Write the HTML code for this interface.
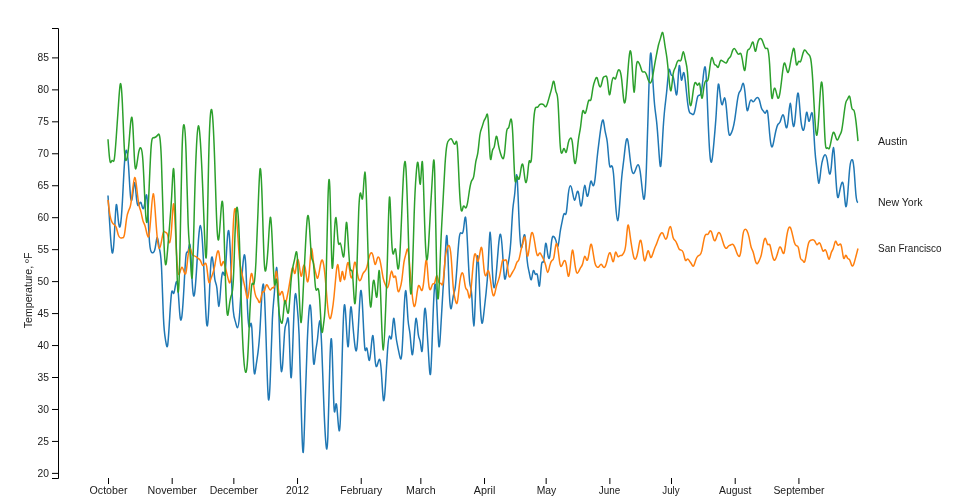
<!DOCTYPE html>
<html><head><meta charset="utf-8"><title>Multi-Series Line Chart</title>
<style>
html,body{margin:0;padding:0;background:#fff;}
body{width:960px;height:500px;overflow:hidden;}
svg{display:block;font-family:"Liberation Sans","DejaVu Sans",sans-serif;font-size:10px;fill:#1a1a1a;}
.line{fill:none;stroke-width:1.5px;}
.axis line,.axis path{stroke:#000;fill:none;}
text{fill:#1a1a1a;}
</style></head><body>
<svg width="960" height="500" viewBox="0 0 960 500">

<g class="axis axis--x" text-anchor="middle">
<g><line x1="108.5" x2="108.5" y1="478" y2="484"/><text x="108.5" y="494.1" textLength="37.96" lengthAdjust="spacingAndGlyphs">October</text></g>
<g><line x1="172.2" x2="172.2" y1="478" y2="484"/><text x="172.2" y="494.1" textLength="49.32" lengthAdjust="spacingAndGlyphs">November</text></g>
<g><line x1="233.84" x2="233.84" y1="478" y2="484"/><text x="233.84" y="494.1" textLength="48.39" lengthAdjust="spacingAndGlyphs">December</text></g>
<g><line x1="297.54" x2="297.54" y1="478" y2="484"/><text x="297.54" y="494.1" textLength="22.87" lengthAdjust="spacingAndGlyphs">2012</text></g>
<g><line x1="361.24" x2="361.24" y1="478" y2="484"/><text x="361.24" y="494.1" textLength="41.77" lengthAdjust="spacingAndGlyphs">February</text></g>
<g><line x1="420.83" x2="420.83" y1="478" y2="484"/><text x="420.83" y="494.1" textLength="29.57" lengthAdjust="spacingAndGlyphs">March</text></g>
<g><line x1="484.53" x2="484.53" y1="478" y2="484"/><text x="484.53" y="494.1" textLength="21.6" lengthAdjust="spacingAndGlyphs">April</text></g>
<g><line x1="546.17" x2="546.17" y1="478" y2="484"/><text x="546.47" y="494.1" textLength="19.6" lengthAdjust="spacingAndGlyphs">May</text></g>
<g><line x1="609.87" x2="609.87" y1="478" y2="484"/><text x="609.47" y="494.1" textLength="21.4" lengthAdjust="spacingAndGlyphs">June</text></g>
<g><line x1="671.51" x2="671.51" y1="478" y2="484"/><text x="671.01" y="494.1" textLength="17.4" lengthAdjust="spacingAndGlyphs">July</text></g>
<g><line x1="735.21" x2="735.21" y1="478" y2="484"/><text x="735.21" y="494.1" textLength="32.38" lengthAdjust="spacingAndGlyphs">August</text></g>
<g><line x1="798.91" x2="798.91" y1="478" y2="484"/><text x="798.91" y="494.1" textLength="51.0" lengthAdjust="spacingAndGlyphs">September</text></g>
</g>
<g class="axis axis--y" text-anchor="end">
<path d="M52,478.5H58.5V28.5H52"/>
<g><line x1="52" x2="58" y1="473.39" y2="473.39"/><text x="49" y="476.59" textLength="11.44" lengthAdjust="spacingAndGlyphs">20</text></g>
<g><line x1="52" x2="58" y1="441.43" y2="441.43"/><text x="49" y="444.63" textLength="11.44" lengthAdjust="spacingAndGlyphs">25</text></g>
<g><line x1="52" x2="58" y1="409.47" y2="409.47"/><text x="49" y="412.67" textLength="11.44" lengthAdjust="spacingAndGlyphs">30</text></g>
<g><line x1="52" x2="58" y1="377.51" y2="377.51"/><text x="49" y="380.71" textLength="11.44" lengthAdjust="spacingAndGlyphs">35</text></g>
<g><line x1="52" x2="58" y1="345.55" y2="345.55"/><text x="49" y="348.75" textLength="11.44" lengthAdjust="spacingAndGlyphs">40</text></g>
<g><line x1="52" x2="58" y1="313.59" y2="313.59"/><text x="49" y="316.79" textLength="11.44" lengthAdjust="spacingAndGlyphs">45</text></g>
<g><line x1="52" x2="58" y1="281.62" y2="281.62"/><text x="49" y="284.82" textLength="11.44" lengthAdjust="spacingAndGlyphs">50</text></g>
<g><line x1="52" x2="58" y1="249.66" y2="249.66"/><text x="49" y="252.86" textLength="11.44" lengthAdjust="spacingAndGlyphs">55</text></g>
<g><line x1="52" x2="58" y1="217.7" y2="217.7"/><text x="49" y="220.9" textLength="11.44" lengthAdjust="spacingAndGlyphs">60</text></g>
<g><line x1="52" x2="58" y1="185.74" y2="185.74"/><text x="49" y="188.94" textLength="11.44" lengthAdjust="spacingAndGlyphs">65</text></g>
<g><line x1="52" x2="58" y1="153.78" y2="153.78"/><text x="49" y="156.98" textLength="11.44" lengthAdjust="spacingAndGlyphs">70</text></g>
<g><line x1="52" x2="58" y1="121.82" y2="121.82"/><text x="49" y="125.02" textLength="11.44" lengthAdjust="spacingAndGlyphs">75</text></g>
<g><line x1="52" x2="58" y1="89.86" y2="89.86"/><text x="49" y="93.06" textLength="11.44" lengthAdjust="spacingAndGlyphs">80</text></g>
<g><line x1="52" x2="58" y1="57.9" y2="57.9"/><text x="49" y="61.1" textLength="11.44" lengthAdjust="spacingAndGlyphs">85</text></g>
<text transform="translate(32.3,290.4) rotate(-90)" text-anchor="middle" textLength="75.6" lengthAdjust="spacingAndGlyphs">Temperature, ºF</text>
</g>
<g class="city"><path class="line" stroke="#1f77b4" d="M108,195.47L108.34,201.22C108.68,206.98,109.37,218.48,110.05,229.24C110.74,240,111.42,250.02,112.11,252.47C112.79,254.92,113.48,249.8,114.16,238.19C114.85,226.58,115.53,208.47,116.22,205.17C116.9,201.86,117.59,213.37,118.27,220.08C118.96,226.79,119.64,228.71,120.33,225.51C121.01,222.32,121.7,214.01,122.38,201.86C123.07,189.72,123.75,173.74,124.44,163.72C125.12,153.71,125.81,149.66,126.49,150.3C127.18,150.94,127.86,156.27,128.55,166.28C129.23,176.3,129.92,191,130.6,197.07C131.29,203.14,131.97,200.59,132.66,195.15C133.34,189.72,134.03,181.41,134.71,182.79C135.4,184.18,136.08,195.26,136.77,200.69C137.45,206.12,138.14,205.91,138.82,204.74C139.51,203.57,140.19,201.44,140.88,202.5C141.56,203.57,142.25,207.83,142.93,208.58C143.62,209.32,144.3,206.55,144.99,201.97C145.67,197.39,146.36,191,147.04,197.92C147.73,204.85,148.41,225.09,149.1,236.49C149.78,247.89,150.47,250.44,151.15,251.72C151.84,253,152.52,253,153.21,252.57C153.89,252.15,154.58,251.3,155.26,247.57C155.95,243.84,156.63,237.23,157.32,237.45C158,237.66,158.68,244.69,159.37,248.42C160.05,252.15,160.74,252.57,161.42,265.46C162.11,278.36,162.79,303.71,163.48,318.09C164.16,332.47,164.85,335.88,165.53,340.04C166.22,344.19,166.9,349.09,167.59,345.58C168.27,342.06,168.96,330.13,169.64,318.41C170.33,306.69,171.01,295.19,171.7,291.99C172.38,288.8,173.07,293.91,173.75,293.38C174.44,292.84,175.12,286.66,175.81,283.58C176.49,280.49,177.18,280.49,177.86,287.52C178.55,294.55,179.23,308.61,179.92,315.32C180.6,322.03,181.29,321.39,181.97,315.64C182.66,309.89,183.34,299.02,184.03,286.56C184.71,274.09,185.4,260.03,186.08,254.92C186.77,249.8,187.45,253.64,188.14,251.3C188.82,248.95,189.51,240.43,190.19,245.97C190.88,251.51,191.56,271.11,192.25,282.72C192.93,294.34,193.62,297.96,194.3,295.19C194.99,292.42,195.67,283.26,196.36,272.6C197.04,261.95,197.73,249.8,198.41,240.64C199.1,231.48,199.78,225.3,200.47,225.62C201.15,225.94,201.84,232.76,202.52,243.52C203.21,254.28,203.89,268.98,204.58,284.96C205.26,300.94,205.95,318.2,206.63,323.85C207.32,329.49,208,323.53,208.68,310.21C209.37,296.89,210.05,276.22,210.74,265.78C211.42,255.34,212.11,255.13,212.79,260.03C213.48,264.93,214.16,274.95,214.85,279.31C215.53,283.68,216.22,282.4,216.9,288.16C217.59,293.91,218.27,306.69,218.96,306.37C219.64,306.05,220.33,292.63,221.01,284C221.7,275.37,222.38,271.54,223.07,272.28C223.75,273.03,224.44,278.36,225.12,272.92C225.81,267.49,226.49,251.3,227.18,241.17C227.86,231.05,228.55,227.01,229.23,234.04C229.92,241.07,230.6,259.18,231.29,274.95C231.97,290.71,232.66,304.14,233.34,311.27C234.03,318.41,234.71,319.26,235.4,321.61C236.08,323.95,236.77,327.79,237.45,327.79C238.14,327.79,238.82,323.95,239.51,315.32C240.19,306.69,240.88,293.27,241.56,282.3C242.25,271.32,242.93,262.8,243.62,258.11C244.3,253.43,244.99,252.57,245.67,264.08C246.36,275.59,247.04,299.45,247.73,312.66C248.41,325.87,249.1,328.43,249.78,326.72C250.47,325.02,251.15,319.05,251.84,328C252.52,336.95,253.21,360.81,253.89,369.55C254.58,378.28,255.26,371.89,255.95,366.78C256.63,361.66,257.32,357.83,258,352.4C258.68,346.96,259.37,339.93,260.05,328.21C260.74,316.49,261.42,300.09,262.11,291.25C262.79,282.4,263.48,281.12,264.16,290.71C264.85,300.3,265.53,320.76,266.22,343.23C266.9,365.71,267.59,390.22,268.27,397.57C268.96,404.92,269.64,395.12,270.33,377.33C271.01,359.53,271.7,333.75,272.38,319.16C273.07,304.56,273.75,301.15,274.44,291.99C275.12,282.83,275.81,267.91,276.49,267.49C277.18,267.06,277.86,281.13,278.55,301.9C279.23,322.67,279.92,350.16,280.6,362.84C281.29,375.51,281.97,373.38,282.66,364.12C283.34,354.85,284.03,338.44,284.71,330.98C285.4,323.53,286.08,325.02,286.77,322.25C287.45,319.48,288.14,312.45,288.82,325.34C289.51,338.23,290.19,371.04,290.88,376.79C291.56,382.55,292.25,361.24,292.93,341C293.62,320.76,294.3,301.58,294.99,295.72C295.67,289.86,296.36,297.32,297.04,304.35C297.73,311.38,298.41,317.99,299.1,335.03C299.78,352.08,300.47,379.56,301.15,405.13C301.84,430.7,302.52,454.35,303.21,452.43C303.89,450.51,304.58,423.03,305.26,399.59C305.95,376.15,306.63,356.76,307.32,340.89C308,325.02,308.68,312.66,309.37,307.55C310.05,302.43,310.74,304.56,311.42,317.67C312.11,330.77,312.79,354.85,313.48,361.88C314.16,368.91,314.85,358.89,315.53,352.82C316.22,346.75,316.9,344.62,317.59,338.23C318.27,331.84,318.96,321.18,319.64,320.86C320.33,320.54,321.01,330.56,321.7,346.54C322.38,362.52,323.07,384.46,323.75,402.36C324.44,420.26,325.12,434.11,325.81,442.42C326.49,450.73,327.18,453.5,327.86,436.56C328.55,419.62,329.23,382.97,329.92,361.03C330.6,339.08,331.29,331.84,331.97,346.22C332.66,360.6,333.34,396.61,334.03,407.69C334.71,418.77,335.4,404.92,336.08,403.75C336.77,402.57,337.45,414.08,338.14,422.39C338.82,430.7,339.51,435.81,340.19,423.03C340.88,410.24,341.56,379.56,342.25,354.31C342.93,329.07,343.62,309.25,344.3,305.41C344.99,301.58,345.67,313.72,346.36,326.08C347.04,338.44,347.73,351.01,348.41,345.47C349.1,339.93,349.78,316.28,350.47,309.25C351.15,302.22,351.84,311.81,352.52,320.44C353.21,329.07,353.89,336.74,354.58,342.81C355.26,348.88,355.95,353.36,356.63,349.73C357.32,346.11,358,334.39,358.68,321.18C359.37,307.97,360.05,293.27,360.74,290.82C361.42,288.37,362.11,298.17,362.79,311.91C363.48,325.66,364.16,343.34,364.85,348.67C365.53,353.99,366.22,346.96,366.9,348.03C367.59,349.09,368.27,358.26,368.96,360.07C369.64,361.88,370.33,356.34,371.01,349.2C371.7,342.06,372.38,333.33,373.07,336.1C373.75,338.87,374.44,353.14,375.12,360.28C375.81,367.42,376.49,367.42,377.18,365.5C377.86,363.58,378.55,359.75,379.23,359.32C379.92,358.89,380.6,361.88,381.29,371.04C381.97,380.2,382.66,395.54,383.34,399.59C384.03,403.64,384.71,396.39,385.4,385.85C386.08,375.3,386.77,361.45,387.45,351.65C388.14,341.85,388.82,336.1,389.51,335.99C390.19,335.88,390.88,341.42,391.56,337.48C392.25,333.54,392.93,320.12,393.62,318.52C394.3,316.92,394.99,327.15,395.67,333.75C396.36,340.36,397.04,343.34,397.73,346.64C398.41,349.95,399.1,353.57,399.78,356.44C400.47,359.32,401.15,361.45,401.84,353.57C402.52,345.68,403.21,327.79,403.89,313.4C404.58,299.02,405.26,288.16,405.95,291.14C406.63,294.12,407.32,310.95,408,319.48C408.68,328,409.37,328.21,410.05,334.39C410.74,340.57,411.42,352.72,412.11,354.53C412.79,356.34,413.48,347.82,414.16,338.23C414.85,328.64,415.53,317.99,416.22,318.2C416.9,318.41,417.59,329.49,418.27,334.39C418.96,339.29,419.64,338.01,420.33,342.17C421.01,346.32,421.7,355.91,422.38,349.2C423.07,342.49,423.75,319.48,424.44,311.59C425.12,303.71,425.81,310.95,426.49,320.65C427.18,330.34,427.86,342.49,428.55,354.53C429.23,366.57,429.92,378.5,430.6,373.38C431.29,368.27,431.97,346.11,432.66,326.62C433.34,307.12,434.03,290.29,434.71,285.49C435.4,280.7,436.08,287.94,436.77,302.86C437.45,317.77,438.14,340.36,438.82,345.58C439.51,350.8,440.19,338.65,440.88,326.3C441.56,313.94,442.25,301.37,442.93,291.03C443.62,280.7,444.3,272.6,444.99,260.14C445.67,247.67,446.36,230.84,447.04,236.59C447.73,242.35,448.41,270.68,449.1,287.52C449.78,304.35,450.47,309.68,451.15,308.61C451.84,307.55,452.52,300.09,453.21,296.36C453.89,292.63,454.58,292.63,455.26,287.41C455.95,282.19,456.63,271.75,457.32,261.52C458,251.3,458.68,241.28,459.37,236.59C460.05,231.91,460.74,232.55,461.42,233.08C462.11,233.61,462.79,234.04,463.48,229.56C464.16,225.09,464.85,215.71,465.53,217.31C466.22,218.91,466.9,231.48,467.59,245.65C468.27,259.82,468.96,275.59,469.64,281.98C470.33,288.37,471.01,285.39,471.7,294.76C472.38,304.14,473.07,325.87,473.75,325.98C474.44,326.08,475.12,304.56,475.81,286.24C476.49,267.91,477.18,252.79,477.86,256.2C478.55,259.61,479.23,281.55,479.92,297.11C480.6,312.66,481.29,321.82,481.97,323.1C482.66,324.38,483.34,317.77,484.03,311.49C484.71,305.2,485.4,299.24,486.08,292.95C486.77,286.66,487.45,280.06,488.14,266.32C488.82,252.57,489.51,231.69,490.19,232.23C490.88,232.76,491.56,254.7,492.25,268.55C492.93,282.4,493.62,288.16,494.3,287.73C494.99,287.3,495.67,280.7,496.36,272.5C497.04,264.29,497.73,254.49,498.41,246.82C499.1,239.15,499.78,233.61,500.47,234.36C501.15,235.1,501.84,242.13,502.52,252.04C503.21,261.95,503.89,274.73,504.58,278.25C505.26,281.76,505.95,276.01,506.63,271.64C507.32,267.28,508,264.29,508.68,260.56C509.37,256.84,510.05,252.36,510.74,242.56C511.42,232.76,512.11,217.63,512.79,209.43C513.48,201.22,514.16,199.95,514.85,192.49C515.53,185.03,516.22,171.39,516.9,175.55C517.59,179.7,518.27,201.65,518.96,217.84C519.64,234.04,520.33,244.48,521.01,247.14C521.7,249.8,522.38,244.69,523.07,240.32C523.75,235.95,524.44,232.33,525.12,236.7C525.81,241.07,526.49,253.43,527.18,260.46C527.86,267.49,528.55,269.19,529.23,272.5C529.92,275.8,530.6,280.7,531.29,279.74C531.97,278.78,532.66,271.96,533.34,270.68C534.03,269.41,534.71,273.67,535.4,274.31C536.08,274.95,536.77,271.96,537.45,275.27C538.14,278.57,538.82,288.16,539.51,285.81C540.19,283.47,540.88,269.19,541.56,264.4C542.25,259.61,542.93,264.29,543.62,260.78C544.3,257.26,544.99,245.54,545.67,243.62C546.36,241.71,547.04,249.59,547.73,254.17C548.41,258.75,549.1,260.03,549.78,256.3C550.47,252.57,551.15,243.84,551.84,239.68C552.52,235.53,553.21,235.95,553.89,236.59C554.58,237.23,555.26,238.09,555.95,240.64C556.63,243.2,557.32,247.46,558,246.08C558.68,244.69,559.37,237.66,560.05,232.76C560.74,227.86,561.42,225.09,562.11,221.68C562.79,218.27,563.48,214.22,564.16,213.69C564.85,213.16,565.53,216.14,566.22,212.94C566.9,209.75,567.59,200.37,568.27,194.41C568.96,188.44,569.64,185.88,570.33,185.78C571.01,185.67,571.7,188.01,572.38,191.53C573.07,195.05,573.75,199.73,574.44,200.16C575.12,200.59,575.81,196.75,576.49,194.09C577.18,191.42,577.86,189.93,578.55,192.91C579.23,195.9,579.92,203.36,580.6,205.38C581.29,207.4,581.97,203.99,582.66,198.45C583.34,192.91,584.03,185.24,584.71,185.14C585.4,185.03,586.08,192.49,586.77,195.15C587.45,197.82,588.14,195.68,588.82,191.74C589.51,187.8,590.19,182.05,590.88,181.2C591.56,180.34,592.25,184.39,592.93,185.46C593.62,186.52,594.3,184.61,594.99,179.38C595.67,174.16,596.36,165.64,597.04,158.72C597.73,151.79,598.41,146.47,599.1,141.14C599.78,135.81,600.47,130.49,601.15,126.22C601.84,121.96,602.52,118.77,603.21,120.37C603.89,121.96,604.58,128.36,605.26,131.98C605.95,135.6,606.63,136.45,607.32,142.52C608,148.6,608.68,159.89,609.37,164.36C610.05,168.84,610.74,166.49,611.42,165.96C612.11,165.43,612.79,166.71,613.48,173.53C614.16,180.34,614.85,192.7,615.53,202.72C616.22,212.73,616.9,220.4,617.59,220.61C618.27,220.83,618.96,213.58,619.64,204.63C620.33,195.68,621.01,185.03,621.7,177.57C622.38,170.12,623.07,165.86,623.75,160C624.44,154.14,625.12,146.68,625.81,142.52C626.49,138.37,627.18,137.52,627.86,140.71C628.55,143.91,629.23,151.15,629.92,157.23C630.6,163.3,631.29,168.2,631.97,170.86C632.66,173.53,633.34,173.95,634.03,173.1C634.71,172.25,635.4,170.12,636.08,168.2C636.77,166.28,637.45,164.58,638.14,164.79C638.82,165,639.51,167.13,640.19,171.71C640.88,176.3,641.56,183.33,642.25,189.51C642.93,195.68,643.62,201.01,644.3,198.67C644.99,196.32,645.67,186.31,646.36,169.05C647.04,151.79,647.73,127.29,648.41,103.96C649.1,80.63,649.78,58.47,650.47,53.89C651.15,49.31,651.84,62.3,652.52,74.34C653.21,86.38,653.89,97.46,654.58,104.7C655.26,111.95,655.95,115.36,656.63,121.86C657.32,128.36,658,137.94,658.68,148.06C659.37,158.18,660.05,168.84,660.74,166.07C661.42,163.3,662.11,147.11,662.79,134.85C663.48,122.6,664.16,114.29,664.85,107.79C665.53,101.3,666.22,96.61,666.9,89.36C667.59,82.12,668.27,72.32,668.96,69.97C669.64,67.63,670.33,72.74,671.01,74.56C671.7,76.37,672.38,74.87,673.07,76.58C673.75,78.28,674.44,83.18,675.12,88.19C675.81,93.2,676.49,98.31,677.18,92.03C677.86,85.74,678.55,68.06,679.23,65.82C679.92,63.58,680.6,76.79,681.29,79.56C681.97,82.33,682.66,74.66,683.34,72.96C684.03,71.25,684.71,75.51,685.4,81.59C686.08,87.66,686.77,95.54,687.45,101.3C688.14,107.05,688.82,110.67,689.51,112.27C690.19,113.87,690.88,113.44,691.56,113.76C692.25,114.08,692.93,115.14,693.62,114.19C694.3,113.23,694.99,110.24,695.67,106.52C696.36,102.79,697.04,98.31,697.73,96.5C698.41,94.69,699.1,95.54,699.78,95.22C700.47,94.9,701.15,93.41,701.84,88.72C702.52,84.04,703.21,76.15,703.89,71.15C704.58,66.14,705.26,64.01,705.95,72.74C706.63,81.48,707.32,101.08,708,118.02C708.68,134.96,709.37,149.24,710.05,156.37C710.74,163.51,711.42,163.51,712.11,159.46C712.79,155.41,713.48,147.32,714.16,139.65C714.85,131.98,715.53,124.73,716.22,113.65C716.9,102.57,717.59,87.66,718.27,84.68C718.96,81.69,719.64,90.64,720.33,96.61C721.01,102.57,721.7,105.56,722.38,104.49C723.07,103.43,723.75,98.31,724.44,97.89C725.12,97.46,725.81,101.72,726.49,109.07C727.18,116.42,727.86,126.86,728.55,131.66C729.23,136.45,729.92,135.6,730.6,134.43C731.29,133.26,731.97,131.76,732.66,129.53C733.34,127.29,734.03,124.31,734.71,119.94C735.4,115.57,736.08,109.82,736.77,104.81C737.45,99.8,738.14,95.54,738.82,93.52C739.51,91.49,740.19,91.71,740.88,89.79C741.56,87.87,742.25,83.82,742.93,83.4C743.62,82.97,744.3,86.17,744.99,92.35C745.67,98.53,746.36,107.69,747.04,110.03C747.73,112.37,748.41,107.9,749.1,104.81C749.78,101.72,750.47,100.02,751.15,100.02C751.84,100.02,752.52,101.72,753.21,101.83C753.89,101.93,754.58,100.44,755.26,99.38C755.95,98.31,756.63,97.67,757.32,97.57C758,97.46,758.68,97.89,759.37,100.02C760.05,102.15,760.74,105.98,761.42,108.01C762.11,110.03,762.79,110.24,763.48,111.2C764.16,112.16,764.85,113.87,765.53,112.91C766.22,111.95,766.9,108.33,767.59,111.84C768.27,115.36,768.96,126.01,769.64,133.68C770.33,141.35,771.01,146.04,771.7,146.89C772.38,147.74,773.07,144.76,773.75,141.35C774.44,137.94,775.12,134.11,775.81,131.02C776.49,127.93,777.18,125.59,777.86,124.52C778.55,123.45,779.23,123.67,779.92,122.28C780.6,120.9,781.29,117.91,781.97,116.21C782.66,114.51,783.34,114.08,784.03,116.85C784.71,119.62,785.4,125.59,786.08,127.29C786.77,128.99,787.45,126.44,788.14,120.05C788.82,113.65,789.51,103.43,790.19,103.32C790.88,103.21,791.56,113.23,792.25,119.51C792.93,125.8,793.62,128.36,794.3,124.95C794.99,121.54,795.67,112.16,796.36,104.49C797.04,96.82,797.73,90.86,798.41,93.84C799.1,96.82,799.78,108.75,800.47,116.42C801.15,124.09,801.84,127.5,802.52,129.21C803.21,130.91,803.89,130.91,804.58,126.44C805.26,121.96,805.95,113.01,806.63,112.27C807.32,111.52,808,118.98,808.68,120.79C809.37,122.6,810.05,118.77,810.74,115.68C811.42,112.59,812.11,110.24,812.79,116.96C813.48,123.67,814.16,139.43,814.85,149.34C815.53,159.25,816.22,163.3,816.9,169.37C817.59,175.44,818.27,183.54,818.96,183.22C819.64,182.9,820.33,174.16,821.01,168.52C821.7,162.87,822.38,160.32,823.07,158.29C823.75,156.27,824.44,154.78,825.12,154.78C825.81,154.78,826.49,156.27,827.18,160.21C827.86,164.15,828.55,170.54,829.23,172.99C829.92,175.44,830.6,173.95,831.29,167.03C831.97,160.1,832.66,147.74,833.34,147.53C834.03,147.32,834.71,159.25,835.4,170.65C836.08,182.05,836.77,192.91,837.45,196.32C838.14,199.73,838.82,195.68,839.51,192.06C840.19,188.44,840.88,185.24,841.56,183.43C842.25,181.62,842.93,181.2,843.62,186.63C844.3,192.06,844.99,203.36,845.67,206.02C846.36,208.68,847.04,202.72,847.73,194.09C848.41,185.46,849.1,174.16,849.78,167.77C850.47,161.38,851.15,159.89,851.84,159.68C852.52,159.46,853.21,160.53,853.89,167.67C854.58,174.8,855.26,188.01,855.95,194.83C856.63,201.65,857.32,202.08,857.66,202.29L858,202.5"/>
<text x="878" y="206" textLength="44.5" lengthAdjust="spacingAndGlyphs">New York</text></g>
<g class="city"><path class="line" stroke="#ff7f0e" d="M108,199.95L108.34,202.93C108.68,205.91,109.37,211.88,110.05,215.71C110.74,219.55,111.42,221.25,112.11,222.42C112.79,223.6,113.48,224.24,114.16,224.66C114.85,225.09,115.53,225.3,116.22,227.22C116.9,229.14,117.59,232.76,118.27,234.89C118.96,237.02,119.64,237.66,120.33,237.87C121.01,238.09,121.7,237.87,122.38,237.87C123.07,237.87,123.75,238.09,124.44,234.57C125.12,231.05,125.81,223.81,126.49,219.12C127.18,214.43,127.86,212.3,128.55,210.81C129.23,209.32,129.92,208.47,130.6,205.06C131.29,201.65,131.97,195.68,132.66,189.72C133.34,183.75,134.03,177.79,134.71,177.47C135.4,177.15,136.08,182.47,136.77,188.33C137.45,194.19,138.14,200.59,138.82,204.31C139.51,208.04,140.19,209.11,140.88,211.66C141.56,214.22,142.25,218.27,142.93,220.61C143.62,222.96,144.3,223.6,144.99,225.73C145.67,227.86,146.36,231.48,147.04,234.14C147.73,236.81,148.41,238.51,149.1,234.78C149.78,231.05,150.47,221.89,151.15,212.62C151.84,203.36,152.52,193.98,153.21,193.77C153.89,193.55,154.58,202.5,155.26,212.09C155.95,221.68,156.63,231.91,157.32,238.62C158,245.33,158.68,248.53,159.37,248.53C160.05,248.53,160.74,245.33,161.42,241.6C162.11,237.87,162.79,233.61,163.48,232.12C164.16,230.63,164.85,231.91,165.53,232.33C166.22,232.76,166.9,232.33,167.59,234.89C168.27,237.45,168.96,242.99,169.64,242.77C170.33,242.56,171.01,236.59,171.7,226.47C172.38,216.35,173.07,202.08,173.75,203.89C174.44,205.7,175.12,223.6,175.81,238.62C176.49,253.64,177.18,265.78,177.86,271C178.55,276.22,179.23,274.52,179.92,272.28C180.6,270.05,181.29,267.28,181.97,267.17C182.66,267.06,183.34,269.62,184.03,271.75C184.71,273.88,185.4,275.59,186.08,272.18C186.77,268.77,187.45,260.24,188.14,254.92C188.82,249.59,189.51,247.46,190.19,248.21C190.88,248.95,191.56,252.57,192.25,254.28C192.93,255.98,193.62,255.77,194.3,255.88C194.99,255.98,195.67,256.41,196.36,256.94C197.04,257.47,197.73,258.11,198.41,258.54C199.1,258.97,199.78,259.18,200.47,260.56C201.15,261.95,201.84,264.51,202.52,265.25C203.21,266,203.89,264.93,204.58,263.97C205.26,263.01,205.95,262.16,206.63,266.1C207.32,270.05,208,278.78,208.68,281.66C209.37,284.53,210.05,281.55,210.74,279.31C211.42,277.08,212.11,275.59,212.79,273.56C213.48,271.54,214.16,268.98,214.85,265.25C215.53,261.52,216.22,256.62,216.9,253.64C217.59,250.66,218.27,249.59,218.96,252.89C219.64,256.2,220.33,263.87,221.01,265.46C221.7,267.06,222.38,262.59,223.07,261.74C223.75,260.88,224.44,263.65,225.12,266.42C225.81,269.19,226.49,271.96,227.18,274.95C227.86,277.93,228.55,281.12,229.23,282.4C229.92,283.68,230.6,283.04,231.29,271.43C231.97,259.82,232.66,237.23,233.34,224.02C234.03,210.81,234.71,206.98,235.4,209.21C236.08,211.45,236.77,219.76,237.45,229.88C238.14,240,238.82,251.93,239.51,259.18C240.19,266.42,240.88,268.98,241.56,271.96C242.25,274.95,242.93,278.36,243.62,281.44C244.3,284.53,244.99,287.3,245.67,291.03C246.36,294.76,247.04,299.45,247.73,298.17C248.41,296.89,249.1,289.65,249.78,283.58C250.47,277.5,251.15,272.6,251.84,273.67C252.52,274.73,253.21,281.76,253.89,286.77C254.58,291.78,255.26,294.76,255.95,296.47C256.63,298.17,257.32,298.6,258,299.98C258.68,301.37,259.37,303.71,260.05,302.01C260.74,300.3,261.42,294.55,262.11,292.63C262.79,290.71,263.48,292.63,264.16,291.57C264.85,290.5,265.53,286.45,266.22,285.17C266.9,283.89,267.59,285.39,268.27,286.98C268.96,288.58,269.64,290.29,270.33,290.07C271.01,289.86,271.7,287.73,272.38,287.62C273.07,287.52,273.75,289.43,274.44,285.17C275.12,280.91,275.81,270.47,276.49,271.43C277.18,272.39,277.86,284.75,278.55,290.5C279.23,296.25,279.92,295.4,280.6,293.91C281.29,292.42,281.97,290.29,282.66,292.42C283.34,294.55,284.03,300.94,284.71,302.75C285.4,304.56,286.08,301.79,286.77,298.6C287.45,295.4,288.14,291.78,288.82,287.84C289.51,283.89,290.19,279.63,290.88,275.37C291.56,271.11,292.25,266.85,292.93,267.7C293.62,268.55,294.3,274.52,294.99,273.45C295.67,272.39,296.36,264.29,297.04,261.1C297.73,257.9,298.41,259.61,299.1,264.08C299.78,268.55,300.47,275.8,301.15,276.22C301.84,276.65,302.52,270.26,303.21,267.17C303.89,264.08,304.58,264.29,305.26,268.23C305.95,272.18,306.63,279.85,307.32,281.55C308,283.26,308.68,278.99,309.37,270.68C310.05,262.37,310.74,250.02,311.42,248.63C312.11,247.25,312.79,256.84,313.48,262.38C314.16,267.91,314.85,269.41,315.53,272.07C316.22,274.73,316.9,278.57,317.59,278.25C318.27,277.93,318.96,273.45,319.64,269.3C320.33,265.14,321.01,261.31,321.7,260.24C322.38,259.18,323.07,260.88,323.75,265.14C324.44,269.41,325.12,276.22,325.81,284.32C326.49,292.42,327.18,301.79,327.86,308.29C328.55,314.79,329.23,318.41,329.92,318.73C330.6,319.05,331.29,316.07,331.97,312.13C332.66,308.18,333.34,303.28,334.03,296.47C334.71,289.65,335.4,280.91,336.08,274.09C336.77,267.28,337.45,262.37,338.14,265.68C338.82,268.98,339.51,280.49,340.19,281.34C340.88,282.19,341.56,272.39,342.25,271.54C342.93,270.68,343.62,278.78,344.3,279.63C344.99,280.49,345.67,274.09,346.36,269.3C347.04,264.51,347.73,261.31,348.41,263.12C349.1,264.93,349.78,271.75,350.47,275.27C351.15,278.78,351.84,278.99,352.52,275.37C353.21,271.75,353.89,264.29,354.58,262.59C355.26,260.88,355.95,264.93,356.63,268.98C357.32,273.03,358,277.08,358.68,279.1C359.37,281.12,360.05,281.12,360.74,279.74C361.42,278.36,362.11,275.59,362.79,273.99C363.48,272.39,364.16,271.96,364.85,271.22C365.53,270.47,366.22,269.41,366.9,266.96C367.59,264.51,368.27,260.67,368.96,257.9C369.64,255.13,370.33,253.43,371.01,252.89C371.7,252.36,372.38,253,373.07,255.88C373.75,258.75,374.44,263.87,375.12,264.4C375.81,264.93,376.49,260.88,377.18,258.75C377.86,256.62,378.55,256.41,379.23,258.01C379.92,259.61,380.6,263.01,381.29,267.06C381.97,271.11,382.66,275.8,383.34,278.78C384.03,281.76,384.71,283.04,385.4,284.64C386.08,286.24,386.77,288.16,387.45,287.73C388.14,287.3,388.82,284.53,389.51,280.49C390.19,276.44,390.88,271.11,391.56,271.11C392.25,271.11,392.93,276.44,393.62,277.29C394.3,278.14,394.99,274.52,395.67,276.76C396.36,278.99,397.04,287.09,397.73,290.18C398.41,293.27,399.1,291.35,399.78,289.33C400.47,287.3,401.15,285.17,401.84,280.17C402.52,275.16,403.21,267.28,403.89,262.59C404.58,257.9,405.26,256.41,405.95,253.75C406.63,251.08,407.32,247.25,408,249.8C408.68,252.36,409.37,261.31,410.05,270.05C410.74,278.78,411.42,287.3,412.11,294.02C412.79,300.73,413.48,305.63,414.16,306.37C414.85,307.12,415.53,303.71,416.22,299.02C416.9,294.34,417.59,288.37,418.27,286.35C418.96,284.32,419.64,286.24,420.33,288.05C421.01,289.86,421.7,291.57,422.38,289.65C423.07,287.73,423.75,282.19,424.44,274.84C425.12,267.49,425.81,258.33,426.49,260.35C427.18,262.38,427.86,275.59,428.55,282.62C429.23,289.65,429.92,290.5,430.6,289.33C431.29,288.16,431.97,284.96,432.66,284.11C433.34,283.26,434.03,284.75,434.71,282.83C435.4,280.91,436.08,275.59,436.77,275.48C437.45,275.37,438.14,280.49,438.82,282.3C439.51,284.11,440.19,282.62,440.88,283.36C441.56,284.11,442.25,287.09,442.93,282.94C443.62,278.78,444.3,267.49,444.99,260.46C445.67,253.43,446.36,250.66,447.04,248.53C447.73,246.39,448.41,244.9,449.1,245.54C449.78,246.18,450.47,248.95,451.15,257.15C451.84,265.36,452.52,278.99,453.21,286.98C453.89,294.97,454.58,297.32,455.26,299.88C455.95,302.43,456.63,305.2,457.32,302.43C458,299.66,458.68,291.35,459.37,285.39C460.05,279.42,460.74,275.8,461.42,273.99C462.11,272.18,462.79,272.18,463.48,275.37C464.16,278.57,464.85,284.96,465.53,287.52C466.22,290.07,466.9,288.8,467.59,290.93C468.27,293.06,468.96,298.6,469.64,297.85C470.33,297.11,471.01,290.07,471.7,281.87C472.38,273.67,473.07,264.29,473.75,259.07C474.44,253.85,475.12,252.79,475.81,254.7C476.49,256.62,477.18,261.52,477.86,261.63C478.55,261.74,479.23,257.05,479.92,252.89C480.6,248.74,481.29,245.12,481.97,248.74C482.66,252.36,483.34,263.23,484.03,269.3C484.71,275.37,485.4,276.65,486.08,275.48C486.77,274.31,487.45,270.68,488.14,270.58C488.82,270.47,489.51,273.88,490.19,278.46C490.88,283.04,491.56,288.8,492.25,292.2C492.93,295.61,493.62,296.68,494.3,295.08C494.99,293.48,495.67,289.22,496.36,286.45C497.04,283.68,497.73,282.4,498.41,280.38C499.1,278.36,499.78,275.59,500.47,271.54C501.15,267.49,501.84,262.16,502.52,260.46C503.21,258.75,503.89,260.67,504.58,260.56C505.26,260.46,505.95,258.33,506.63,261.2C507.32,264.08,508,271.96,508.68,275.16C509.37,278.36,510.05,276.86,510.74,275.48C511.42,274.09,512.11,272.82,512.79,271.75C513.48,270.68,514.16,269.83,514.85,268.02C515.53,266.21,516.22,263.44,516.9,262.27C517.59,261.1,518.27,261.52,518.96,259.5C519.64,257.47,520.33,253,521.01,250.02C521.7,247.03,522.38,245.54,523.07,242.45C523.75,239.36,524.44,234.68,525.12,237.87C525.81,241.07,526.49,252.15,527.18,255.24C527.86,258.33,528.55,253.43,529.23,247.99C529.92,242.56,530.6,236.59,531.29,234.04C531.97,231.48,532.66,232.33,533.34,235.1C534.03,237.87,534.71,242.56,535.4,246.82C536.08,251.08,536.77,254.92,537.45,255.56C538.14,256.2,538.82,253.64,539.51,253.11C540.19,252.57,540.88,254.07,541.56,255.45C542.25,256.84,542.93,258.11,543.62,259.5C544.3,260.88,544.99,262.38,545.67,265.25C546.36,268.13,547.04,272.39,547.73,272.5C548.41,272.6,549.1,268.55,549.78,265.68C550.47,262.8,551.15,261.1,551.84,260.56C552.52,260.03,553.21,260.67,553.89,257.37C554.58,254.07,555.26,246.82,555.95,244.48C556.63,242.13,557.32,244.69,558,249.48C558.68,254.28,559.37,261.31,560.05,264.4C560.74,267.49,561.42,266.64,562.11,265.14C562.79,263.65,563.48,261.52,564.16,260.78C564.85,260.03,565.53,260.67,566.22,264.4C566.9,268.13,567.59,274.95,568.27,276.12C568.96,277.29,569.64,272.82,570.33,266.32C571.01,259.82,571.7,251.3,572.38,250.23C573.07,249.16,573.75,255.56,574.44,260.88C575.12,266.21,575.81,270.47,576.49,272.18C577.18,273.88,577.86,273.03,578.55,271.75C579.23,270.47,579.92,268.77,580.6,267.7C581.29,266.64,581.97,266.21,582.66,263.76C583.34,261.31,584.03,256.84,584.71,256.41C585.4,255.98,586.08,259.61,586.77,260.24C587.45,260.88,588.14,258.54,588.82,254.6C589.51,250.66,590.19,245.12,590.88,244.26C591.56,243.41,592.25,247.25,592.93,251.51C593.62,255.77,594.3,260.46,594.99,263.23C595.67,266,596.36,266.85,597.04,267.17C597.73,267.49,598.41,267.28,599.1,266.42C599.78,265.57,600.47,264.08,601.15,264.19C601.84,264.29,602.52,266,603.21,266.85C603.89,267.7,604.58,267.7,605.26,266.42C605.95,265.14,606.63,262.59,607.32,259.71C608,256.84,608.68,253.64,609.37,252.89C610.05,252.15,610.74,253.85,611.42,256.52C612.11,259.18,612.79,262.8,613.48,261.42C614.16,260.03,614.85,253.64,615.53,252.36C616.22,251.08,616.9,254.92,617.59,256.2C618.27,257.47,618.96,256.2,619.64,255.77C620.33,255.34,621.01,255.77,621.7,255.45C622.38,255.13,623.07,254.07,623.75,252.89C624.44,251.72,625.12,250.44,625.81,244.48C626.49,238.51,627.18,227.86,627.86,225.51C628.55,223.17,629.23,229.14,629.92,234.36C630.6,239.58,631.29,244.05,631.97,248.21C632.66,252.36,633.34,256.2,634.03,258.01C634.71,259.82,635.4,259.61,636.08,258.22C636.77,256.84,637.45,254.28,638.14,250.44C638.82,246.61,639.51,241.49,640.19,240.43C640.88,239.36,641.56,242.35,642.25,247.14C642.93,251.93,643.62,258.54,644.3,260.35C644.99,262.16,645.67,259.18,646.36,256.2C647.04,253.21,647.73,250.23,648.41,250.87C649.1,251.51,649.78,255.77,650.47,257.05C651.15,258.33,651.84,256.62,652.52,254.6C653.21,252.57,653.89,250.23,654.58,248.42C655.26,246.61,655.95,245.33,656.63,243.62C657.32,241.92,658,239.79,658.68,237.98C659.37,236.17,660.05,234.68,660.74,233.72C661.42,232.76,662.11,232.33,662.79,233.29C663.48,234.25,664.16,236.59,664.85,237.98C665.53,239.36,666.22,239.79,666.9,237.87C667.59,235.95,668.27,231.69,668.96,229.14C669.64,226.58,670.33,225.73,671.01,227.86C671.7,229.99,672.38,235.1,673.07,237.55C673.75,240,674.44,239.79,675.12,240.43C675.81,241.07,676.49,242.56,677.18,244.37C677.86,246.18,678.55,248.31,679.23,249.27C679.92,250.23,680.6,250.02,681.29,250.12C681.97,250.23,682.66,250.66,683.34,252.89C684.03,255.13,684.71,259.18,685.4,260.24C686.08,261.31,686.77,259.39,687.45,259.07C688.14,258.75,688.82,260.03,689.51,261.1C690.19,262.16,690.88,263.01,691.56,264.19C692.25,265.36,692.93,266.85,693.62,266.1C694.3,265.36,694.99,262.38,695.67,260.24C696.36,258.11,697.04,256.84,697.73,256.2C698.41,255.56,699.1,255.56,699.78,255.02C700.47,254.49,701.15,253.43,701.84,250.55C702.52,247.67,703.21,242.99,703.89,239.79C704.58,236.59,705.26,234.89,705.95,234.46C706.63,234.04,707.32,234.89,708,234.25C708.68,233.61,709.37,231.48,710.05,230.95C710.74,230.41,711.42,231.48,712.11,233.72C712.79,235.95,713.48,239.36,714.16,240.43C714.85,241.49,715.53,240.22,716.22,238.3C716.9,236.38,717.59,233.82,718.27,232.87C718.96,231.91,719.64,232.55,720.33,234.04C721.01,235.53,721.7,237.87,722.38,240.22C723.07,242.56,723.75,244.9,724.44,246.39C725.12,247.89,725.81,248.53,726.49,248.21C727.18,247.89,727.86,246.61,728.55,245.97C729.23,245.33,729.92,245.33,730.6,245.01C731.29,244.69,731.97,244.05,732.66,244.26C733.34,244.48,734.03,245.54,734.71,247.14C735.4,248.74,736.08,250.87,736.77,252.68C737.45,254.49,738.14,255.98,738.82,256.3C739.51,256.62,740.19,255.77,740.88,251.4C741.56,247.03,742.25,239.15,742.93,234.78C743.62,230.41,744.3,229.56,744.99,229.35C745.67,229.14,746.36,229.56,747.04,230.84C747.73,232.12,748.41,234.25,749.1,237.45C749.78,240.64,750.47,244.9,751.15,247.25C751.84,249.59,752.52,250.02,753.21,252.15C753.89,254.28,754.58,258.11,755.26,260.56C755.95,263.01,756.63,264.08,757.32,263.76C758,263.44,758.68,261.74,759.37,260.24C760.05,258.75,760.74,257.47,761.42,254.38C762.11,251.3,762.79,246.39,763.48,242.99C764.16,239.58,764.85,237.66,765.53,238.62C766.22,239.58,766.9,243.41,767.59,244.37C768.27,245.33,768.96,243.41,769.64,244.48C770.33,245.54,771.01,249.59,771.7,252.89C772.38,256.2,773.07,258.75,773.75,259.71C774.44,260.67,775.12,260.03,775.81,258.54C776.49,257.05,777.18,254.7,777.86,252.25C778.55,249.8,779.23,247.25,779.92,246.93C780.6,246.61,781.29,248.53,781.97,250.55C782.66,252.57,783.34,254.7,784.03,252.89C784.71,251.08,785.4,245.33,786.08,240.54C786.77,235.74,787.45,231.91,788.14,229.56C788.82,227.22,789.51,226.37,790.19,227.22C790.88,228.07,791.56,230.63,792.25,233.61C792.93,236.59,793.62,240,794.3,242.24C794.99,244.48,795.67,245.54,796.36,245.76C797.04,245.97,797.73,245.33,798.41,247.78C799.1,250.23,799.78,255.77,800.47,258.11C801.15,260.46,801.84,259.61,802.52,260.24C803.21,260.88,803.89,263.01,804.58,261.95C805.26,260.88,805.95,256.62,806.63,252.57C807.32,248.53,808,244.69,808.68,242.67C809.37,240.64,810.05,240.43,810.74,240.22C811.42,240,812.11,239.79,812.79,239.79C813.48,239.79,814.16,240,814.85,241.17C815.53,242.35,816.22,244.48,816.9,244.69C817.59,244.9,818.27,243.2,818.96,242.88C819.64,242.56,820.33,243.62,821.01,245.65C821.7,247.67,822.38,250.66,823.07,251.19C823.75,251.72,824.44,249.8,825.12,249.8C825.81,249.8,826.49,251.72,827.18,254.17C827.86,256.62,828.55,259.61,829.23,259.07C829.92,258.54,830.6,254.49,831.29,252.47C831.97,250.44,832.66,250.44,833.34,248.31C834.03,246.18,834.71,241.92,835.4,241.28C836.08,240.64,836.77,243.62,837.45,244.69C838.14,245.76,838.82,244.9,839.51,244.37C840.19,243.84,840.88,243.62,841.56,246.82C842.25,250.02,842.93,256.62,843.62,258.11C844.3,259.61,844.99,255.98,845.67,255.45C846.36,254.92,847.04,257.47,847.73,258.43C848.41,259.39,849.1,258.75,849.78,260.03C850.47,261.31,851.15,264.51,851.84,265.57C852.52,266.64,853.21,265.57,853.89,263.65C854.58,261.74,855.26,258.97,855.95,256.3C856.63,253.64,857.32,251.08,857.66,249.8L858,248.53"/>
<text x="878" y="252.03" textLength="63.59" lengthAdjust="spacingAndGlyphs">San Francisco</text></g>
<g class="city"><path class="line" stroke="#2ca02c" d="M108,139.22L108.34,144.02C108.68,148.81,109.37,158.4,110.05,161.38C110.74,164.36,111.42,160.74,112.11,160.42C112.79,160.1,113.48,163.09,114.16,159.89C114.85,156.69,115.53,147.32,116.22,137.73C116.9,128.14,117.59,118.34,118.27,107.79C118.96,97.25,119.64,85.95,120.33,83.93C121.01,81.91,121.7,89.15,122.38,103.53C123.07,117.91,123.75,139.43,124.44,150.3C125.12,161.17,125.81,161.38,126.49,159.78C127.18,158.18,127.86,154.78,128.55,147.74C129.23,140.71,129.92,130.06,130.6,123.35C131.29,116.64,131.97,113.87,132.66,123.13C133.34,132.4,134.03,153.71,134.71,162.87C135.4,172.03,136.08,169.05,136.77,164.79C137.45,160.53,138.14,154.99,138.82,151.69C139.51,148.38,140.19,147.32,140.88,147.96C141.56,148.6,142.25,150.94,142.93,161.06C143.62,171.18,144.3,189.08,144.99,202.5C145.67,215.93,146.36,224.88,147.04,222C147.73,219.12,148.41,204.42,149.1,188.44C149.78,172.46,150.47,155.2,151.15,146.57C151.84,137.94,152.52,137.94,153.21,137.84C153.89,137.73,154.58,137.52,155.26,137.2C155.95,136.88,156.63,136.45,157.32,135.49C158,134.53,158.68,133.04,159.37,135.17C160.05,137.3,160.74,143.06,161.42,160.74C162.11,178.43,162.79,208.04,163.48,229.03C164.16,250.02,164.85,262.37,165.53,264.4C166.22,266.42,166.9,258.11,167.59,249.8C168.27,241.49,168.96,233.18,169.64,224.98C170.33,216.78,171.01,208.68,171.7,195.68C172.38,182.69,173.07,164.79,173.75,169.26C174.44,173.74,175.12,200.59,175.81,228.18C176.49,255.77,177.18,284.11,177.86,290.71C178.55,297.32,179.23,282.19,179.92,252.47C180.6,222.74,181.29,178.43,181.97,153.71C182.66,128.99,183.34,123.88,184.03,124.84C184.71,125.8,185.4,132.83,186.08,152.86C186.77,172.89,187.45,205.91,188.14,223.7C188.82,241.49,189.51,244.05,190.19,254.6C190.88,265.14,191.56,283.68,192.25,276.65C192.93,269.62,193.62,237.02,194.3,210.49C194.99,183.97,195.67,163.51,196.36,149.13C197.04,134.75,197.73,126.44,198.41,125.9C199.1,125.37,199.78,132.62,200.47,143.06C201.15,153.5,201.84,167.13,202.52,183.43C203.21,199.73,203.89,218.7,204.58,235.53C205.26,252.36,205.95,267.06,206.63,251.19C207.32,235.32,208,188.87,208.68,159.25C209.37,129.63,210.05,116.85,210.74,111.84C211.42,106.84,212.11,109.61,212.79,119.09C213.48,128.57,214.16,144.76,214.85,165.43C215.53,186.1,216.22,211.24,216.9,225.41C217.59,239.58,218.27,242.77,218.96,237.87C219.64,232.97,220.33,219.97,221.01,210.81C221.7,201.65,222.38,196.32,223.07,207.51C223.75,218.7,224.44,246.39,225.12,268.87C225.81,291.35,226.49,308.61,227.18,313.62C227.86,318.62,228.55,311.38,229.23,306.05C229.92,300.73,230.6,297.32,231.29,295.51C231.97,293.7,232.66,293.48,233.34,280.06C234.03,266.64,234.71,240,235.4,224.56C236.08,209.11,236.77,204.85,237.45,208.58C238.14,212.3,238.82,224.02,239.51,243.62C240.19,263.23,240.88,290.71,241.56,311.7C242.25,332.69,242.93,347.18,243.62,356.98C244.3,366.78,244.99,371.89,245.67,372.32C246.36,372.74,247.04,368.48,247.73,357.4C248.41,346.32,249.1,328.43,249.78,313.83C250.47,299.24,251.15,287.94,251.84,284.53C252.52,281.12,253.21,285.6,253.89,284C254.58,282.4,255.26,274.73,255.95,261.74C256.63,248.74,257.32,230.41,258,211.45C258.68,192.49,259.37,172.89,260.05,169.26C260.74,165.64,261.42,178,262.11,198.35C262.79,218.7,263.48,247.03,264.16,260.46C264.85,273.88,265.53,272.39,266.22,267.81C266.9,263.23,267.59,255.56,268.27,244.37C268.96,233.18,269.64,218.48,270.33,217.31C271.01,216.14,271.7,228.5,272.38,244.37C273.07,260.24,273.75,279.63,274.44,283.89C275.12,288.16,275.81,277.29,276.49,279.42C277.18,281.55,277.86,296.68,278.55,305.95C279.23,315.22,279.92,318.62,280.6,321.08C281.29,323.53,281.97,325.02,282.66,320.12C283.34,315.22,284.03,303.92,284.71,301.26C285.4,298.6,286.08,304.56,286.77,308.82C287.45,313.09,288.14,315.64,288.82,310.32C289.51,304.99,290.19,291.78,290.88,283.04C291.56,274.31,292.25,270.05,292.93,266.74C293.62,263.44,294.3,261.1,294.99,257.37C295.67,253.64,296.36,248.53,297.04,254.17C297.73,259.82,298.41,276.22,299.1,292.1C299.78,307.97,300.47,323.31,301.15,322.57C301.84,321.82,302.52,304.99,303.21,290.29C303.89,275.59,304.58,263.01,305.26,249.91C305.95,236.81,306.63,223.17,307.32,217.95C308,212.73,308.68,215.93,309.37,225.19C310.05,234.46,310.74,249.8,311.42,255.88C312.11,261.95,312.79,258.75,313.48,263.87C314.16,268.98,314.85,282.4,315.53,287.52C316.22,292.63,316.9,289.43,317.59,288.69C318.27,287.94,318.96,289.65,319.64,299.24C320.33,308.82,321.01,326.3,321.7,331.09C322.38,335.88,323.07,328,323.75,322.67C324.44,317.35,325.12,314.58,325.81,292.1C326.49,269.62,327.18,227.43,327.86,202.93C328.55,178.43,329.23,171.61,329.92,190.25C330.6,208.89,331.29,253,331.97,264.83C332.66,276.65,333.34,256.2,334.03,240.86C334.71,225.51,335.4,215.29,336.08,217.95C336.77,220.61,337.45,236.17,338.14,241.71C338.82,247.25,339.51,242.77,340.19,242.99C340.88,243.2,341.56,248.1,342.25,252.36C342.93,256.62,343.62,260.24,344.3,252.36C344.99,244.48,345.67,225.09,346.36,222.64C347.04,220.19,347.73,234.68,348.41,246.5C349.1,258.33,349.78,267.49,350.47,269.73C351.15,271.96,351.84,267.28,352.52,273.99C353.21,280.7,353.89,298.81,354.58,302.86C355.26,306.91,355.95,296.89,356.63,277.29C357.32,257.69,358,228.5,358.68,211.98C359.37,195.47,360.05,191.64,360.74,193.45C361.42,195.26,362.11,202.72,362.79,196.96C363.48,191.21,364.16,172.25,364.85,172.03C365.53,171.82,366.22,190.36,366.9,213.58C367.59,236.81,368.27,264.72,368.96,282.94C369.64,301.15,370.33,309.68,371.01,306.37C371.7,303.07,372.38,287.94,373.07,282.62C373.75,277.29,374.44,281.76,375.12,287.73C375.81,293.7,376.49,301.15,377.18,295.08C377.86,289.01,378.55,269.41,379.23,270.58C379.92,271.75,380.6,293.7,381.29,313.3C381.97,332.9,382.66,350.16,383.34,349.95C384.03,349.73,384.71,332.05,385.4,315.22C386.08,298.38,386.77,282.4,387.45,257.69C388.14,232.97,388.82,199.52,389.51,197.07C390.19,194.62,390.88,223.17,391.56,238.3C392.25,253.43,392.93,255.13,393.62,253.43C394.3,251.72,394.99,246.61,395.67,249.8C396.36,253,397.04,264.51,397.73,267.91C398.41,271.32,399.1,266.64,399.78,255.77C400.47,244.9,401.15,227.86,401.84,211.03C402.52,194.19,403.21,177.57,403.89,168.62C404.58,159.68,405.26,158.4,405.95,168.52C406.63,178.64,407.32,200.16,408,223.81C408.68,247.46,409.37,273.24,410.05,285.6C410.74,297.96,411.42,296.89,412.11,281.23C412.79,265.57,413.48,235.32,414.16,214.54C414.85,193.77,415.53,182.47,416.22,173.74C416.9,165,417.59,158.82,418.27,164.26C418.96,169.69,419.64,186.74,420.33,183.97C421.01,181.2,421.7,158.61,422.38,161.91C423.07,165.22,423.75,194.41,424.44,216.67C425.12,238.94,425.81,254.28,426.49,258.54C427.18,262.8,427.86,255.98,428.55,245.33C429.23,234.68,429.92,220.19,430.6,207.3C431.29,194.41,431.97,183.11,432.66,172.25C433.34,161.38,434.03,150.94,434.71,172.99C435.4,195.05,436.08,249.59,436.77,276.54C437.45,303.5,438.14,302.86,438.82,291.67C439.51,280.49,440.19,258.75,440.88,242.56C441.56,226.37,442.25,215.71,442.93,203.04C443.62,190.36,444.3,175.66,444.99,165C445.67,154.35,446.36,147.74,447.04,144.34C447.73,140.93,448.41,140.71,449.1,140.07C449.78,139.43,450.47,138.37,451.15,138.69C451.84,139.01,452.52,140.71,453.21,142.2C453.89,143.7,454.58,144.97,455.26,143.59C455.95,142.2,456.63,138.16,457.32,145.93C458,153.71,458.68,173.31,459.37,187.16C460.05,201.01,460.74,209.11,461.42,210.71C462.11,212.3,462.79,207.4,463.48,206.23C464.16,205.06,464.85,207.62,465.53,207.94C466.22,208.26,466.9,206.34,467.59,202.61C468.27,198.88,468.96,193.34,469.64,189.08C470.33,184.82,471.01,181.84,471.7,180.56C472.38,179.28,473.07,179.7,473.75,176.3C474.44,172.89,475.12,165.64,475.81,161.7C476.49,157.76,477.18,157.12,477.86,152.54C478.55,147.96,479.23,139.43,479.92,134.75C480.6,130.06,481.29,129.21,481.97,127.29C482.66,125.37,483.34,122.39,484.03,120.79C484.71,119.19,485.4,118.98,486.08,116.85C486.77,114.72,487.45,110.67,488.14,119.62C488.82,128.57,489.51,150.51,490.19,157.12C490.88,163.72,491.56,154.99,492.25,151.37C492.93,147.74,493.62,149.24,494.3,146.57C494.99,143.91,495.67,137.09,496.36,136.35C497.04,135.6,497.73,140.93,498.41,144.76C499.1,148.6,499.78,150.94,500.47,153.18C501.15,155.41,501.84,157.55,502.52,158.4C503.21,159.25,503.89,158.82,504.58,152.96C505.26,147.11,505.95,135.81,506.63,131.34C507.32,126.86,508,129.21,508.68,127.61C509.37,126.01,510.05,120.47,510.74,119.3C511.42,118.13,512.11,121.32,512.79,134.53C513.48,147.74,514.16,170.97,514.85,178.64C515.53,186.31,516.22,178.43,516.9,176.83C517.59,175.23,518.27,179.92,518.96,179.28C519.64,178.64,520.33,172.67,521.01,168.62C521.7,164.58,522.38,162.45,523.07,165.43C523.75,168.41,524.44,176.51,525.12,180.24C525.81,183.97,526.49,183.33,527.18,178C527.86,172.67,528.55,162.66,529.23,160.95C529.92,159.25,530.6,165.86,531.29,160.21C531.97,154.56,532.66,136.66,533.34,125.48C534.03,114.29,534.71,109.82,535.4,108.11C536.08,106.41,536.77,107.47,537.45,107.26C538.14,107.05,538.82,105.56,539.51,104.81C540.19,104.07,540.88,104.07,541.56,104.07C542.25,104.07,542.93,104.07,543.62,104.81C544.3,105.56,544.99,107.05,545.67,106.84C546.36,106.62,547.04,104.7,547.73,102.47C548.41,100.23,549.1,97.67,549.78,95.33C550.47,92.99,551.15,90.86,551.84,87.66C552.52,84.46,553.21,80.2,553.89,81.37C554.58,82.55,555.26,89.15,555.95,91.6C556.63,94.05,557.32,92.35,558,101.93C558.68,111.52,559.37,132.4,560.05,143.06C560.74,153.71,561.42,154.14,562.11,152.75C562.79,151.37,563.48,148.17,564.16,148.6C564.85,149.02,565.53,153.07,566.22,152.33C566.9,151.58,567.59,146.04,568.27,142.84C568.96,139.65,569.64,138.8,570.33,138.26C571.01,137.73,571.7,137.52,572.38,142.63C573.07,147.74,573.75,158.18,574.44,161.91C575.12,165.64,575.81,162.66,576.49,157.23C577.18,151.79,577.86,143.91,578.55,138.9C579.23,133.89,579.92,131.76,580.6,126.65C581.29,121.54,581.97,113.44,582.66,111.2C583.34,108.97,584.03,112.59,584.71,113.23C585.4,113.87,586.08,111.52,586.77,108.33C587.45,105.13,588.14,101.08,588.82,100.23C589.51,99.38,590.19,101.72,590.88,99.8C591.56,97.89,592.25,91.71,592.93,87.77C593.62,83.82,594.3,82.12,594.99,80.31C595.67,78.5,596.36,76.58,597.04,77.75C597.73,78.92,598.41,83.18,599.1,85.32C599.78,87.45,600.47,87.45,601.15,85.42C601.84,83.4,602.52,79.35,603.21,77.64C603.89,75.94,604.58,76.58,605.26,76.37C605.95,76.15,606.63,75.09,607.32,79.35C608,83.61,608.68,93.2,609.37,94.58C610.05,95.97,610.74,89.15,611.42,84.57C612.11,79.99,612.79,77.64,613.48,77.54C614.16,77.43,614.85,79.56,615.53,78.71C616.22,77.86,616.9,74.02,617.59,71.89C618.27,69.76,618.96,69.34,619.64,70.29C620.33,71.25,621.01,73.6,621.7,79.67C622.38,85.74,623.07,95.54,623.75,100.02C624.44,104.49,625.12,103.64,625.81,97.89C626.49,92.13,627.18,81.48,627.86,72C628.55,62.52,629.23,54.21,629.92,51.65C630.6,49.09,631.29,52.29,631.97,62.84C632.66,73.38,633.34,91.28,634.03,92.13C634.71,92.99,635.4,76.79,636.08,68.8C636.77,60.81,637.45,61.03,638.14,61.77C638.82,62.52,639.51,63.8,640.19,65.82C640.88,67.84,641.56,70.61,642.25,71.57C642.93,72.53,643.62,71.68,644.3,71.68C644.99,71.68,645.67,72.53,646.36,74.24C647.04,75.94,647.73,78.5,648.41,80.31C649.1,82.12,649.78,83.18,650.47,82.76C651.15,82.33,651.84,80.41,652.52,77.11C653.21,73.81,653.89,69.12,654.58,65.07C655.26,61.03,655.95,57.62,656.63,54.1C657.32,50.59,658,46.96,658.68,44.3C659.37,41.64,660.05,39.93,660.74,37.37C661.42,34.82,662.11,31.41,662.79,32.79C663.48,34.18,664.16,40.36,664.85,44.94C665.53,49.52,666.22,52.5,666.9,57.83C667.59,63.16,668.27,70.83,668.96,78.07C669.64,85.32,670.33,92.13,671.01,90.64C671.7,89.15,672.38,79.35,673.07,74.45C673.75,69.55,674.44,69.55,675.12,68.06C675.81,66.57,676.49,63.58,677.18,61.98C677.86,60.39,678.55,60.17,679.23,60.49C679.92,60.81,680.6,61.66,681.29,59.43C681.97,57.19,682.66,51.86,683.34,51.76C684.03,51.65,684.71,56.76,685.4,59.96C686.08,63.16,686.77,64.43,687.45,72.11C688.14,79.78,688.82,93.84,689.51,100.55C690.19,107.26,690.88,106.62,691.56,102.89C692.25,99.16,692.93,92.35,693.62,88.09C694.3,83.82,694.99,82.12,695.67,82.55C696.36,82.97,697.04,85.53,697.73,85.1C698.41,84.68,699.1,81.27,699.78,84.36C700.47,87.45,701.15,97.03,701.84,98.1C702.52,99.16,703.21,91.71,703.89,87.13C704.58,82.55,705.26,80.84,705.95,80.73C706.63,80.63,707.32,82.12,708,79.67C708.68,77.22,709.37,70.83,710.05,65.82C710.74,60.81,711.42,57.19,712.11,57.51C712.79,57.83,713.48,62.09,714.16,63.8C714.85,65.5,715.53,64.65,716.22,65.29C716.9,65.93,717.59,68.06,718.27,67.2C718.96,66.35,719.64,62.52,720.33,61.03C721.01,59.53,721.7,60.39,722.38,60.92C723.07,61.45,723.75,61.66,724.44,62.2C725.12,62.73,725.81,63.58,726.49,62.84C727.18,62.09,727.86,59.75,728.55,58.68C729.23,57.62,729.92,57.83,730.6,56.44C731.29,55.06,731.97,52.08,732.66,50.37C733.34,48.67,734.03,48.24,734.71,48.77C735.4,49.31,736.08,50.8,736.77,52.08C737.45,53.36,738.14,54.42,738.82,54.21C739.51,53.99,740.19,52.5,740.88,53.67C741.56,54.85,742.25,58.68,742.93,63.05C743.62,67.42,744.3,72.32,744.99,69.87C745.67,67.42,746.36,57.62,747.04,53.14C747.73,48.67,748.41,49.52,749.1,49.2C749.78,48.88,750.47,47.39,751.15,45.37C751.84,43.34,752.52,40.78,753.21,42.6C753.89,44.41,754.58,50.59,755.26,51.22C755.95,51.86,756.63,46.96,757.32,43.87C758,40.78,758.68,39.51,759.37,38.87C760.05,38.23,760.74,38.23,761.42,39.08C762.11,39.93,762.79,41.64,763.48,43.66C764.16,45.68,764.85,48.03,765.53,48.45C766.22,48.88,766.9,47.39,767.59,48.67C768.27,49.95,768.96,53.99,769.64,64.65C770.33,75.3,771.01,92.56,771.7,97.14C772.38,101.72,773.07,93.62,773.75,90.22C774.44,86.81,775.12,88.09,775.81,90.64C776.49,93.2,777.18,97.03,777.86,97.99C778.55,98.95,779.23,97.03,779.92,93.09C780.6,89.15,781.29,83.18,781.97,77.22C782.66,71.25,783.34,65.29,784.03,63.58C784.71,61.88,785.4,64.43,786.08,67.2C786.77,69.97,787.45,72.96,788.14,72.42C788.82,71.89,789.51,67.84,790.19,64.01C790.88,60.17,791.56,56.55,792.25,53.14C792.93,49.73,793.62,46.54,794.3,49.52C794.99,52.5,795.67,61.66,796.36,64.22C797.04,66.78,797.73,62.73,798.41,61.66C799.1,60.6,799.78,62.52,800.47,61.77C801.15,61.03,801.84,57.62,802.52,54.95C803.21,52.29,803.89,50.37,804.58,50.05C805.26,49.73,805.95,51.01,806.63,52.08C807.32,53.14,808,53.99,808.68,54.53C809.37,55.06,810.05,55.27,810.74,59C811.42,62.73,812.11,69.97,812.79,81.16C813.48,92.35,814.16,107.47,814.85,118.45C815.53,129.42,816.22,136.24,816.9,135.07C817.59,133.89,818.27,124.73,818.96,113.55C819.64,102.36,820.33,89.15,821.01,84.25C821.7,79.35,822.38,82.76,823.07,95.65C823.75,108.54,824.44,130.91,825.12,140.82C825.81,150.73,826.49,148.17,827.18,147.85C827.86,147.53,828.55,149.45,829.23,148.49C829.92,147.53,830.6,143.7,831.29,140.07C831.97,136.45,832.66,133.04,833.34,132.4C834.03,131.76,834.71,133.89,835.4,136.03C836.08,138.16,836.77,140.29,837.45,140.07C838.14,139.86,838.82,137.3,839.51,135.81C840.19,134.32,840.88,133.89,841.56,131.02C842.25,128.14,842.93,122.82,843.62,117.28C844.3,111.74,844.99,105.98,845.67,103.11C846.36,100.23,847.04,100.23,847.73,98.85C848.41,97.46,849.1,94.69,849.78,96.71C850.47,98.74,851.15,105.56,851.84,108.11C852.52,110.67,853.21,108.97,853.89,110.24C854.58,111.52,855.26,115.78,855.95,121.43C856.63,127.08,857.32,134.11,857.66,137.62L858,141.14"/>
<text x="878" y="144.64" textLength="29.43" lengthAdjust="spacingAndGlyphs">Austin</text></g>
</svg></body></html>
